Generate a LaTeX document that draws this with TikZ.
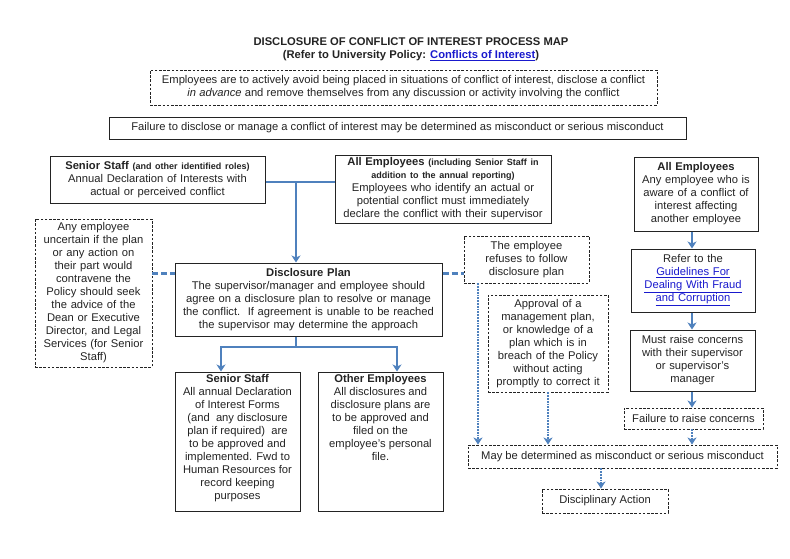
\documentclass[tikz,border=0pt]{standalone}
\usepackage{fontspec}
\setmainfont{Liberation Sans}
\usepackage{tikz}
\usetikzlibrary{calc,arrows.meta}

\definecolor{lineblue}{RGB}{79,129,189}
\definecolor{urlblue}{RGB}{25,25,205}
\definecolor{inkgray}{RGB}{35,35,35}
\newcommand{\weblink}[1]{\textcolor{urlblue}{\underline{#1}}}

\begin{document}
\begin{tikzpicture}[x=1pt,y=-1pt,
    every node/.style={font=\fontsize{11.2}{13}\selectfont, text=inkgray, align=center, inner sep=2pt},
    solidbox/.style={draw=inkgray, line width=1pt},
    dashbox/.style={draw=inkgray, line width=0.9pt, dash pattern=on 2.6pt off 1.6pt},
    link/.style={draw=lineblue, line width=2.4pt},
    dlink/.style={draw=lineblue, line width=2.4pt, dash pattern=on 6pt off 3pt},
    arr/.style={link, -{Stealth[length=7pt,width=9pt,inset=2pt]}},
    darr/.style={draw=lineblue, line width=1.8pt, densely dotted, -{Stealth[length=7pt,width=9pt,inset=2pt]}}]
  \useasboundingbox (0,0) rectangle (790,558);
  %\draw[very thin,lightgray] (0,0) grid[step=50] (790,558);

  % title
  \node (title) at (411,42) {\bfseries DISCLOSURE OF CONFLICT OF INTEREST PROCESS MAP};
  \node (ref) at (411,56) {\bfseries (Refer to University Policy: \weblink{Conflicts of Interest})};

  % top notes
  \node[dashbox, minimum width=507pt, minimum height=35pt] (avoid) at (403.5,87.5)
    {Employees are to actively avoid being placed in situations of conflict of interest, disclose a conflict\\
     \textit{in advance} and remove themselves from any discussion or activity involving the conflict};
  \node[solidbox, minimum width=577pt, minimum height=22pt] (fail) at (397.5,128)
    {Failure to disclose or manage a conflict of interest may be determined as misconduct or serious misconduct};

  % left and middle column
  \node[solidbox, text width=211pt, minimum height=47pt] (senior) at (157.5,179.5)
    {\textbf{Senior Staff} {\fontsize{9}{11}\selectfont\bfseries (and other identified roles)}\\
     Annual Declaration of Interests with\\ actual or perceived conflict};
  \node[solidbox, text width=212pt, minimum height=68pt] (allemp) at (443,189)
    {\textbf{All Employees} {\fontsize{9}{11}\selectfont\bfseries (including Senior Staff in\\ addition to the annual reporting)}\\
     Employees who identify an actual or\\ potential conflict must immediately\\ declare the conflict with their supervisor};
  \node[dashbox, text width=113pt, minimum height=148pt] (advice) at (93.5,293)
    {Any employee\\ uncertain if the plan\\ or any action on\\ their part would\\ contravene the\\ Policy should seek\\
     the advice of the\\ Dean or Executive\\ Director, and Legal\\ Services (for Senior\\ Staff)};
  \node[solidbox, text width=263pt, minimum height=73pt] (plan) at (308.5,299.5)
    {\textbf{Disclosure Plan}\\ The supervisor/manager and employee should\\ agree on a disclosure plan to resolve or manage\\
     the conflict.\ \ If agreement is unable to be reached\\ the supervisor may determine the approach};
  \node[solidbox, inner sep=2pt] (seniorforms) at (237.5,441.5)
    {\parbox[t][135pt][t]{121pt}{\centering \textbf{Senior Staff}\\ All annual Declaration\\ of Interest Forms\\
     (and\ \ any disclosure\\ plan if required)\ \ are\\ to be approved and\\ implemented. Fwd to\\
     Human Resources for\\ record keeping\\ purposes}};
  \node[solidbox, inner sep=2pt] (otherforms) at (380.5,441.5)
    {\parbox[t][135pt][t]{121pt}{\centering \textbf{Other Employees}\\ All disclosures and\\ disclosure plans are\\
     to be approved and\\ filed on the\\ employee's personal\\ file.}};

  % breach column
  \node[dashbox, text width=121pt, minimum height=47pt] (refuse) at (526.5,259.5)
    {The employee\\ refuses to follow\\ disclosure plan};
  \node[dashbox, text width=116pt, minimum height=97pt] (approval) at (548,343.5)
    {Approval of a\\ management plan,\\ or knowledge of a\\ plan which is in\\ breach of the Policy\\
     without acting\\ promptly to correct it};

  % right column
  \node[solidbox, text width=120pt, minimum height=74pt] (aware) at (696,194)
    {\textbf{All Employees}\\ Any employee who is\\ aware of a conflict of\\ interest affecting\\ another employee};
  \node[solidbox, text width=120pt, minimum height=63pt] (guide) at (693,280.5)
    {Refer to the\\ \weblink{Guidelines For}\\ \weblink{Dealing With Fraud}\\ \weblink{and Corruption}};
  \node[solidbox, text width=121pt, minimum height=61pt] (raise) at (692.5,360.5)
    {Must raise concerns\\ with their supervisor\\ or supervisor's\\ manager};
  \node[dashbox, minimum width=139pt, minimum height=21pt] (noraise) at (693.5,418.5)
    {Failure to raise concerns};
  \node[dashbox, minimum width=309pt, minimum height=23pt] (misconduct) at (622.5,456.5)
    {May be determined as misconduct or serious misconduct};
  \node[dashbox, minimum width=126pt, minimum height=24pt] (action) at (605,501)
    {Disciplinary Action};

  % connectors
  \coordinate (top) at (296,182);
  \coordinate (split) at (296,347);
  \coordinate (side) at (0,273.5);
  \coordinate (rcol) at (692,0);
  \draw[link] (senior.east |- top) -- (allemp.west |- top);
  \draw[arr] (top) -- (plan.north -| top);
  \draw[link] (plan.south -| split) -- (split);
  \draw[arr] (split) -| ([xshift=-16.5pt]seniorforms.north);
  \draw[arr] (split) -| ([xshift=16.5pt]otherforms.north);
  \draw[dlink] (advice.east |- side) -- (plan.west |- side);
  \draw[dlink] (plan.east |- side) -- (refuse.west |- side);

  \draw[darr] ([xshift=-48.5pt]refuse.south) -- ([xshift=-48.5pt]refuse.south |- misconduct.north);
  \draw[darr] (approval.south) -- (approval.south |- misconduct.north);

  \draw[arr] (aware.south -| rcol) -- (guide.north -| rcol);
  \draw[arr] (guide.south -| rcol) -- (raise.north -| rcol);
  \draw[arr] (raise.south -| rcol) -- (noraise.north -| rcol);
  \draw[darr] (noraise.south -| rcol) -- (misconduct.north -| rcol);
  \draw[darr] ([xshift=-4pt]action.north |- misconduct.south) -- ([xshift=-4pt]action.north);
\end{tikzpicture}
\end{document}
